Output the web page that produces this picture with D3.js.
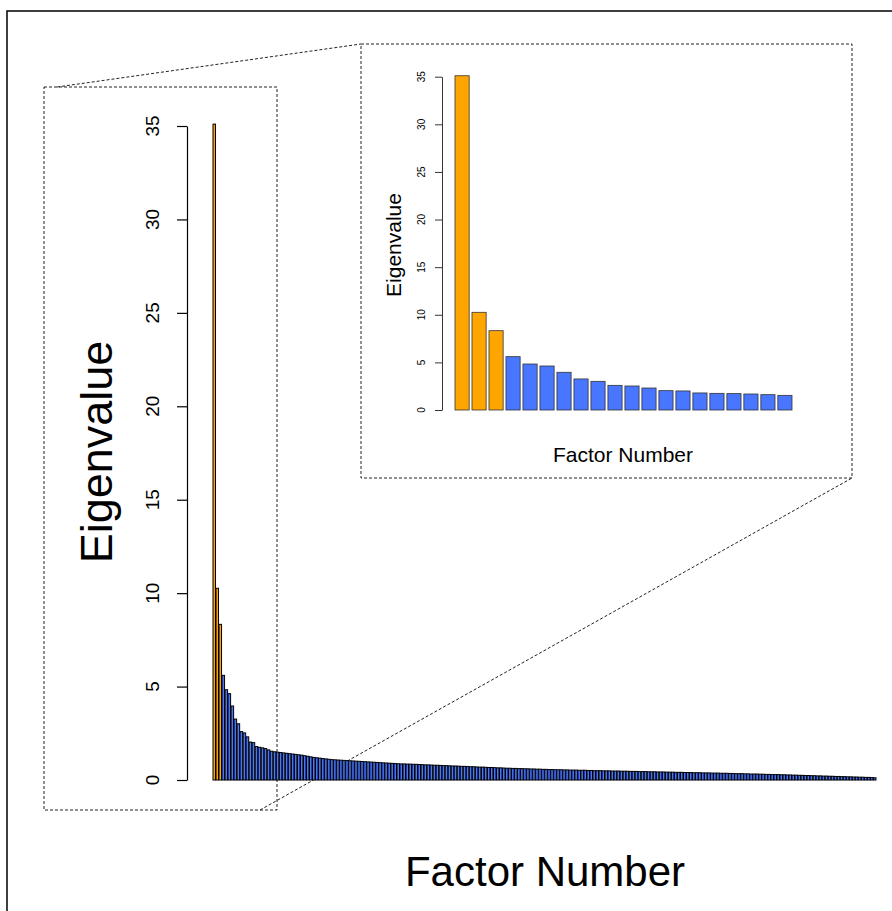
<!DOCTYPE html>
<html>
<head>
<meta charset="utf-8">
<script src="https://cdnjs.cloudflare.com/ajax/libs/d3/7.8.5/d3.min.js"></script>
<style>
  body { margin: 0; background: #fff; }
  text { font-family: "Liberation Sans", Arial, Helvetica, sans-serif; fill: #000; }
</style>
</head>
<body>
<div id="scree"></div>
<script>
//Eigenvalues of the first 20 factors (shown in the zoom box)
var topEigen = [35.1, 10.26, 8.33, 5.6, 4.83, 4.62, 3.96, 3.26, 3.01, 2.59,
                2.52, 2.31, 2.03, 2.0, 1.79, 1.75, 1.72, 1.68, 1.61, 1.54];
//Eigenvalues of factors 21..220 (the long tail)
var tailEigen = [
  1.51, 1.49, 1.47, 1.45, 1.43, 1.41, 1.39, 1.37, 1.35, 1.33,
  1.30, 1.27, 1.24, 1.21, 1.19, 1.17, 1.15, 1.13, 1.11, 1.09,
  1.08, 1.07, 1.06, 1.05, 1.04, 1.03, 1.02, 1.01, 1.00, 0.99,
  0.98, 0.97, 0.96, 0.95, 0.94, 0.93, 0.92, 0.91, 0.90, 0.89,
  0.88, 0.87, 0.86, 0.86, 0.85, 0.85, 0.84, 0.84, 0.83, 0.82,
  0.81, 0.81, 0.80, 0.79, 0.79, 0.78, 0.77, 0.77, 0.76, 0.75,
  0.75, 0.74, 0.73, 0.73, 0.72, 0.71, 0.71, 0.70, 0.69, 0.69,
  0.68, 0.67, 0.67, 0.66, 0.65, 0.65, 0.64, 0.63, 0.63, 0.62,
  0.62, 0.61, 0.61, 0.60, 0.60, 0.59, 0.59, 0.58, 0.58, 0.57,
  0.57, 0.56, 0.56, 0.55, 0.55, 0.55, 0.54, 0.54, 0.53, 0.53,
  0.53, 0.52, 0.52, 0.52, 0.51, 0.51, 0.50, 0.50, 0.50, 0.49,
  0.49, 0.49, 0.48, 0.48, 0.48, 0.47, 0.47, 0.47, 0.46, 0.46,
  0.46, 0.45, 0.45, 0.45, 0.44, 0.44, 0.44, 0.43, 0.43, 0.43,
  0.42, 0.42, 0.42, 0.41, 0.41, 0.41, 0.40, 0.40, 0.40, 0.39,
  0.39, 0.39, 0.38, 0.38, 0.38, 0.37, 0.37, 0.37, 0.36, 0.36,
  0.36, 0.35, 0.35, 0.34, 0.34, 0.34, 0.33, 0.33, 0.32, 0.32,
  0.32, 0.31, 0.31, 0.30, 0.30, 0.29, 0.29, 0.29, 0.28, 0.28,
  0.27, 0.27, 0.26, 0.26, 0.25, 0.25, 0.24, 0.24, 0.23, 0.23,
  0.22, 0.22, 0.21, 0.21, 0.20, 0.20, 0.19, 0.19, 0.18, 0.18,
  0.17, 0.17, 0.16, 0.16, 0.15, 0.15, 0.14, 0.14, 0.13, 0.12
];
var yTicks = [0, 5, 10, 15, 20, 25, 30, 35];
var nRetained = 3;   //factors kept (orange)
var xLabel = "Factor Number";
var yLabel = "Eigenvalue";

var allEigen = topEigen.concat(tailEigen);
var orange = "#FFA500", blue = "#4876FF";

var W = 892, H = 911;
var svg = d3.select("#scree").append("svg")
  .attr("width", W).attr("height", H);

//Outer frame (only top and left edges visible)
svg.append("rect")
  .attr("x", 7).attr("y", 11)
  .attr("width", W + 20).attr("height", H + 20)
  .attr("fill", "none").attr("stroke", "#000").attr("stroke-width", 1.5);

//Draw one barplot with its axis and labels
function barplot(g, data, opt) {
  var x = d3.scaleBand()
    .domain(d3.range(data.length))
    .range([opt.x0, opt.x1])
    .paddingInner(1 / 6).paddingOuter(0);
  var y = d3.scaleLinear().domain([0, 35]).range([opt.y0, opt.y1]);

  g.append("g").selectAll("rect")
    .data(data)
    .enter()
    .append("rect")
    .attr("x", function(d, i) { return x(i); })
    .attr("y", function(d) { return y(d); })
    .attr("width", x.bandwidth())
    .attr("height", function(d) { return y(0) - y(d); })
    .attr("fill", function(d, i) { return i < nRetained ? orange : blue; })
    .attr("stroke", opt.barStroke)
    .attr("stroke-width", opt.barStrokeW);

  //y axis, R style: ticks outward, labels parallel to axis
  var axis = g.append("g")
    .attr("transform", "translate(" + opt.axisX + ",0)")
    .call(d3.axisLeft(y).tickValues(yTicks).tickSize(opt.tickLen).tickSizeOuter(0).tickFormat(""));
  axis.select(".domain").attr("stroke", "#000").attr("stroke-width", opt.axisW);
  axis.selectAll(".tick line").attr("stroke", "#000").attr("stroke-width", opt.axisW);

  g.append("g").selectAll("text")
    .data(yTicks)
    .enter()
    .append("text")
    .attr("transform", function(d) { return "translate(" + opt.tickLabelX + "," + y(d) + ") rotate(-90)"; })
    .attr("text-anchor", "middle")
    .attr("font-size", opt.tickFont)
    .text(function(d) { return d; });

  g.append("text")
    .attr("transform", "translate(" + opt.yLabX + "," + opt.yLabY + ") rotate(-90)")
    .attr("text-anchor", "middle")
    .attr("font-size", opt.yLabFont)
    .text(yLabel);

  g.append("text")
    .attr("x", opt.xLabX).attr("y", opt.xLabY)
    .attr("text-anchor", "middle")
    .attr("font-size", opt.xLabFont)
    .text(xLabel);
}

//Zoom guides (dashed boxes and connectors)
var guides = svg.append("g")
  .attr("fill", "none").attr("stroke", "#222")
  .attr("stroke-width", 1).attr("stroke-dasharray", "3,2");
guides.append("rect").attr("x", 44).attr("y", 87).attr("width", 233).attr("height", 723);
guides.append("rect").attr("x", 361).attr("y", 44).attr("width", 491).attr("height", 434);
guides.append("line").attr("x1", 57).attr("y1", 87).attr("x2", 361).attr("y2", 44);
guides.append("line").attr("x1", 260).attr("y1", 810).attr("x2", 852).attr("y2", 478);

//Main plot, all factors
barplot(svg.append("g"), allEigen, {
  x0: 213, x1: 876, y0: 780, y1: 126,
  barStroke: "#000", barStrokeW: 1,
  axisX: 187, tickLen: 10, axisW: 1.2,
  tickLabelX: 159, tickFont: "19px",
  yLabX: 112, yLabY: 452, yLabFont: "45px",
  xLabX: 545, xLabY: 886, xLabFont: "42px"
});

//Inset plot, first 20 factors
var inset = svg.append("g");
inset.append("rect").attr("x", 362).attr("y", 45).attr("width", 489).attr("height", 432).attr("fill", "#fff");
barplot(inset, topEigen, {
  x0: 455, x1: 792, y0: 410, y1: 76.7,
  barStroke: "#333", barStrokeW: 0.8,
  axisX: 442, tickLen: 7, axisW: 0.8,
  tickLabelX: 425, tickFont: "10px",
  yLabX: 401, yLabY: 245, yLabFont: "21px",
  xLabX: 623, xLabY: 462, xLabFont: "21px"
});
</script>
</body>
</html>
